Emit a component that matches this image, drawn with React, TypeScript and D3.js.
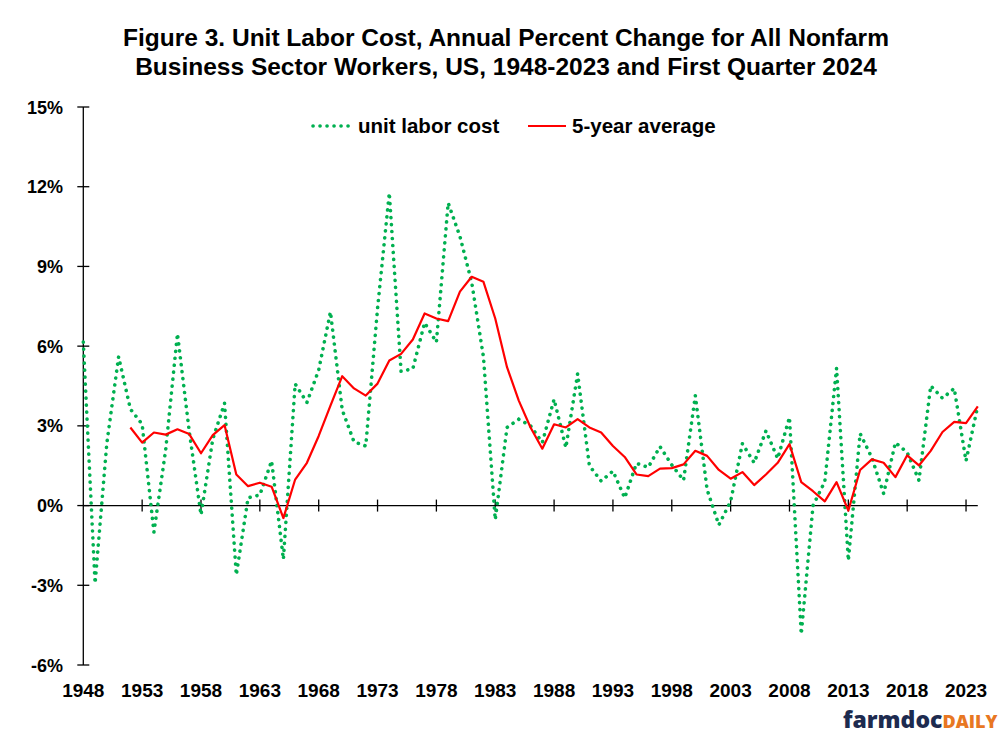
import React, { useEffect, useRef } from "react";
import * as d3 from "d3";

// years 1948..2023 plus first quarter 2024
const years = d3.range(1948, 2025);

// unit labor cost, annual % change
const unitLaborCost = [
  6.15, -2.93, 2.35, 5.6, 3.63, 3.06, -1.0, 2.1, 6.47, 2.8,
  -0.35, 2.5, 3.85, -2.61, 0.29, 0.4, 1.68, -2.02, 4.58, 3.88,
  5.1, 7.29, 3.6, 2.4, 2.24, 7.42, 11.77, 5.05, 5.15, 6.88,
  6.15, 11.39, 10.13, 8.4, 5.59, -0.53, 2.94, 3.25, 3.0, 2.37,
  4.0, 2.18, 4.96, 1.5, 0.92, 1.3, 0.29, 1.59, 1.44, 2.22,
  1.53, 0.95, 4.14, 0.6, -0.73, 0.16, 2.33, 1.61, 2.81, 1.77,
  3.32, -4.84, 0.0, 0.9, 5.17, -2.07, 2.71, 1.8, 0.45, 2.37,
  2.0, 0.95, 4.51, 4.04, 4.41, 1.68, 3.76,
];

// 5-year average, starts in 1952
const avgStartYear = 1952;
const fiveYearAverage = [
  2.94, 2.37, 2.75, 2.67, 2.87, 2.69, 1.97, 2.65, 3.03, 1.17,
  0.73, 0.86, 0.71, -0.47, 0.98, 1.61, 2.62, 3.76, 4.87, 4.41,
  4.14, 4.59, 5.46, 5.71, 6.25, 7.23, 7.04, 6.94, 8.05, 8.61,
  8.42, 7.04, 5.21, 3.95, 2.94, 2.14, 3.06, 2.94, 3.25, 2.94,
  2.75, 2.24, 1.83, 1.17, 1.11, 1.39, 1.41, 1.55, 2.06, 1.87,
  1.34, 1.01, 1.26, 0.77, 1.17, 1.61, 2.31, 0.88, 0.54, 0.16,
  0.88, -0.19, 1.34, 1.74, 1.61, 1.07, 1.89, 1.51, 2.06, 2.77,
  3.15, 3.1, 3.73,
];

const yTicks = [-6, -3, 0, 3, 6, 9, 12, 15];
const xTickYears = d3.range(1948, 2024, 5);

const titleLines = [
  "Figure 3. Unit Labor Cost, Annual Percent Change for All Nonfarm",
  "Business Sector Workers, US, 1948-2023 and First Quarter 2024",
];

const FONT = "'Liberation Sans', Arial, Helvetica, sans-serif";

const App = () => {
  const svgRef = useRef<SVGSVGElement>(null);

  useEffect(() => {
    if (!svgRef.current) return;
    const width = 1000;
    const height = 734;

    d3.select(svgRef.current).selectAll("*").remove();
    const svg = d3
      .select(svgRef.current)
      .attr("width", width)
      .attr("height", height)
      .style("font-family", FONT);

    svg.append("rect").attr("width", width).attr("height", height).attr("fill", "#fff");

    const x = d3.scaleLinear().domain([1948, 2024]).range([83.3, 977.8]);
    const y = d3.scaleLinear().domain([-6, 15]).range([665, 107]);

    // Title
    svg
      .append("g")
      .selectAll("text")
      .data(titleLines)
      .join("text")
      .attr("x", 506)
      .attr("y", (d, i) => 46 + i * 29)
      .attr("text-anchor", "middle")
      .attr("font-size", 24.5)
      .attr("font-weight", "bold")
      .attr("fill", "#000")
      .text((d) => d);

    // Y axis
    const yAxis = svg.append("g");
    yAxis
      .append("line")
      .attr("x1", x(1948))
      .attr("x2", x(1948))
      .attr("y1", y(15))
      .attr("y2", y(-6))
      .attr("stroke", "#000")
      .attr("stroke-width", 1.3);
    yAxis
      .selectAll(".tick")
      .data(yTicks)
      .join("line")
      .attr("x1", x(1948) - 6)
      .attr("x2", x(1948) + 6)
      .attr("y1", (d) => y(d))
      .attr("y2", (d) => y(d))
      .attr("stroke", "#000")
      .attr("stroke-width", 1.3);
    yAxis
      .selectAll("text")
      .data(yTicks)
      .join("text")
      .attr("x", 63)
      .attr("y", (d) => y(d) + 6.5)
      .attr("text-anchor", "end")
      .attr("font-size", 18)
      .attr("font-weight", "bold")
      .text((d) => `${d}%`);

    // X axis at zero
    const xAxis = svg.append("g");
    xAxis
      .append("line")
      .attr("x1", x(1948))
      .attr("x2", x(2024))
      .attr("y1", y(0))
      .attr("y2", y(0))
      .attr("stroke", "#000")
      .attr("stroke-width", 1.3);
    xAxis
      .selectAll(".tick")
      .data(xTickYears.filter((d) => d > 1948))
      .join("line")
      .attr("x1", (d) => x(d))
      .attr("x2", (d) => x(d))
      .attr("y1", y(0) - 6)
      .attr("y2", y(0) + 6)
      .attr("stroke", "#000")
      .attr("stroke-width", 1.3);
    xAxis
      .selectAll("text")
      .data(xTickYears)
      .join("text")
      .attr("x", (d) => x(d))
      .attr("y", 697)
      .attr("text-anchor", "middle")
      .attr("font-size", 19)
      .attr("font-weight", "bold")
      .text((d) => d);

    // Lines
    const ulc = years.map((yr, i) => ({ year: yr, value: unitLaborCost[i] }));
    const avg = fiveYearAverage.map((v, i) => ({ year: avgStartYear + i, value: v }));

    const line = d3
      .line<{ year: number; value: number }>()
      .x((d) => x(d.year))
      .y((d) => y(d.value));

    svg
      .append("path")
      .datum(ulc)
      .attr("d", line)
      .attr("fill", "none")
      .attr("stroke", "#00b050")
      .attr("stroke-width", 3.6)
      .attr("stroke-linecap", "round")
      .attr("stroke-dasharray", "0.1 6.9");

    svg
      .append("path")
      .datum(avg)
      .attr("d", line)
      .attr("fill", "none")
      .attr("stroke", "#ff0000")
      .attr("stroke-width", 2.2)
      .attr("stroke-linejoin", "round");

    // Legend
    const legend = svg.append("g");
    legend
      .append("line")
      .attr("x1", 313)
      .attr("x2", 352)
      .attr("y1", 126)
      .attr("y2", 126)
      .attr("stroke", "#00b050")
      .attr("stroke-width", 3.6)
      .attr("stroke-linecap", "round")
      .attr("stroke-dasharray", "0.1 6.9");
    legend
      .append("text")
      .attr("x", 358)
      .attr("y", 133)
      .attr("font-size", 20.5)
      .attr("font-weight", "bold")
      .text("unit labor cost");
    legend
      .append("line")
      .attr("x1", 528)
      .attr("x2", 566)
      .attr("y1", 126)
      .attr("y2", 126)
      .attr("stroke", "#ff0000")
      .attr("stroke-width", 2.2);
    legend
      .append("text")
      .attr("x", 572)
      .attr("y", 133)
      .attr("font-size", 20.5)
      .attr("font-weight", "bold")
      .text("5-year average");

    // farmdocDAILY mark
    const mark = svg.append("text").attr("x", 843).attr("y", 728).attr("font-family", "'Open Sans', sans-serif");
    mark
      .append("tspan")
      .attr("font-size", 23)
      .attr("font-weight", 800)
      .attr("fill", "#1d2b4f")
      .text("farmdoc");
    mark
      .append("tspan")
      .attr("font-size", 18)
      .attr("font-weight", 800)
      .attr("fill", "#e87722")
      .text("DAILY");
  }, []);

  return (
    <div style={{ position: "absolute", left: 0, top: 0, width: 1000, height: 734 }}>
      <svg ref={svgRef} style={{ display: "block" }} />
    </div>
  );
};

export default App;
